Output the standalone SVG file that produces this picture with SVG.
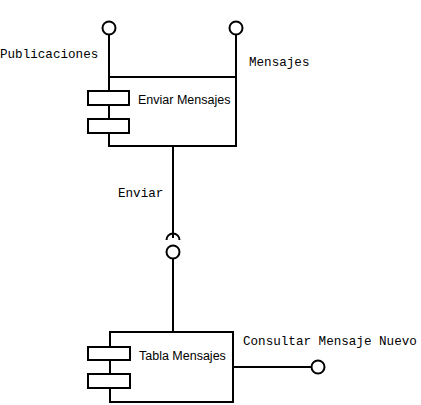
<svg xmlns="http://www.w3.org/2000/svg" width="421" height="405" viewBox="0 0 421 405">
<style>
.ln{stroke:#000;stroke-width:2;fill:none}
.bx{stroke:#000;stroke-width:2;fill:#fff}
.lbl{font-family:"Liberation Mono","Courier New",monospace;font-size:12.6px;fill:#000}
.nm{font-family:"Liberation Sans",Arial,sans-serif;font-size:12.5px;fill:#000}
</style>
<rect width="421" height="405" fill="#fff"/>
<g id="connectors">
<line class="ln" x1="109" y1="35" x2="109" y2="77"/>
<circle class="bx" cx="109" cy="28" r="6.5"/>
<line class="ln" x1="236" y1="35" x2="236" y2="77"/>
<circle class="bx" cx="236" cy="28" r="6.5"/>
<line class="ln" x1="173" y1="146" x2="173" y2="238"/>
<path class="ln" d="M166.5 240 A6.5 6.5 0 0 1 179.5 240"/>
<circle class="bx" cx="173" cy="252" r="6.5"/>
<line class="ln" x1="173" y1="259" x2="173" y2="332"/>
<line class="ln" x1="233" y1="367" x2="311" y2="367"/>
<circle class="bx" cx="318" cy="367" r="6.5"/>
<text class="lbl" x="0" y="58">Publicaciones</text>
<text class="lbl" x="249" y="66">Mensajes</text>
<text class="lbl" x="118" y="197">Enviar</text>
<text class="lbl" x="243" y="345">Consultar Mensaje Nuevo</text>
</g>
<g id="enviar-mensajes">
<rect class="bx" x="109" y="77" width="127" height="69"/>
<rect class="bx" x="88" y="91" width="41" height="14"/>
<rect class="bx" x="88" y="119" width="41" height="14"/>
<text class="nm" x="138" y="104">Enviar Mensajes</text>
</g>
<g id="tabla-mensajes">
<rect class="bx" x="110" y="332" width="123" height="70"/>
<rect class="bx" x="88" y="347" width="42" height="13"/>
<rect class="bx" x="88" y="374" width="42" height="14"/>
<text class="nm" x="139" y="360">Tabla Mensajes</text>
</g>
</svg>
